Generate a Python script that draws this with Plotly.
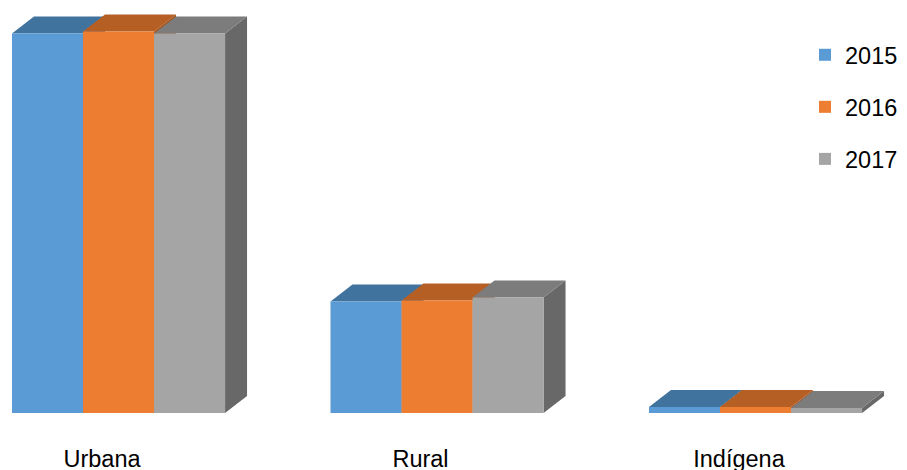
import plotly.graph_objects as go

# ---- data (arbitrary units, no axis shown) ----
categories = ["Urbana", "Rural", "Indígena"]
years = ["2015", "2016", "2017"]
values_2015 = [37950, 11150, 600]
values_2016 = [38150, 11250, 600]
values_2017 = [37950, 11550, 500]

# ---- styling ----
front_colors = ["#5B9BD5", "#ED7D31", "#A5A5A5"]
top_colors = ["#41739F", "#B55F24", "#7C7C7C"]
side_colors = ["#3A6790", "#A2541F", "#686868"]
FONT = "Liberation Sans, Arial, sans-serif"

series = [values_2015, values_2016, values_2017]
x_idx = list(range(len(categories)))

bar_w = 0.223          # width of each front face (category units)
first_off = -0.2826    # left edge of first bar relative to category center
dx = 0.069             # depth offset in x (category units)
dy = 1700              # depth offset in y (value units)

W, H = 899, 462        # page body has an 8px margin in the browser
SPACING = 318.5        # px per category
LABEL0 = 94            # px of first category center
BOTTOM = 57

fig = go.Figure()

# depth faces (side + top) drawn from the data, under the front faces
for k, vals in enumerate(series):
    off = first_off + k * bar_w
    sx, sy, tx, ty = [], [], [], []
    for i, h in zip(x_idx, vals):
        xl = i + off
        xr = xl + bar_w
        sx += [xr, xr + dx, xr + dx, xr, xr, None]
        sy += [0, dy, h + dy, h, 0, None]
        tx += [xl, xl + dx, xr + dx, xr, xl, None]
        ty += [h, h + dy, h + dy, h, h, None]
    fig.add_trace(go.Scatter(x=sx, y=sy, mode="lines", fill="toself",
                             fillcolor=side_colors[k], line=dict(width=0),
                             showlegend=False, hoverinfo="skip", zorder=0))
    fig.add_trace(go.Scatter(x=tx, y=ty, mode="lines", fill="toself",
                             fillcolor=top_colors[k], line=dict(width=0),
                             showlegend=False, hoverinfo="skip", zorder=0))

# front faces
for k, vals in enumerate(series):
    fig.add_trace(go.Bar(x=x_idx, y=vals, name=years[k],
                         width=bar_w, offset=first_off + k * bar_w,
                         marker=dict(color=front_colors[k], line=dict(width=0)),
                         legendgroup=years[k], zorder=1))

plot_h = H - BOTTOM
fig.update_layout(
    width=W, height=H,
    margin=dict(l=0, r=0, t=0, b=BOTTOM, autoexpand=False),
    paper_bgcolor="white", plot_bgcolor="white",
    barmode="overlay",
    font=dict(family=FONT, size=23.5, color="#000000"),
    showlegend=True,
    legend=dict(x=797 / W, y=1 - 25 / plot_h,
                xanchor="left", yanchor="top", traceorder="grouped",
                tracegroupgap=18.5, font=dict(size=23.5, family=FONT),
                bgcolor="rgba(0,0,0,0)"),
    xaxis=dict(range=[-LABEL0 / SPACING, (W - LABEL0) / SPACING],
               tickmode="array", tickvals=x_idx, ticktext=categories,
               showgrid=False, zeroline=False, showline=False, ticks="",
               ticklabelstandoff=29, tickfont=dict(size=23.5, family=FONT)),
    yaxis=dict(range=[0, plot_h * 100], visible=False, showgrid=False, zeroline=False),
)

fig.write_html("out.html")
